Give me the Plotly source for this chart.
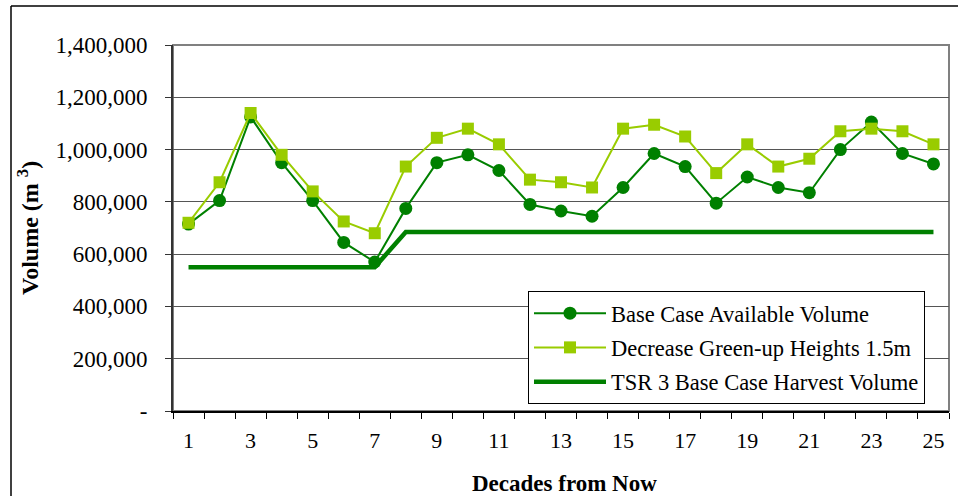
import plotly.graph_objects as go

decades = list(range(1, 26))
base_case = [715000, 805000, 1125000, 950000, 805000, 645000, 570000, 775000, 950000, 980000,
             920000, 790000, 765000, 745000, 855000, 985000, 935000, 795000, 895000, 855000,
             835000, 1000000, 1105000, 985000, 945000]
greenup = [720000, 875000, 1140000, 980000, 840000, 725000, 680000, 935000, 1045000, 1080000,
           1020000, 885000, 875000, 855000, 1080000, 1095000, 1050000, 910000, 1020000, 935000,
           965000, 1070000, 1080000, 1070000, 1020000]
harvest = [550000] * 7 + [685000] * 18

y_ticks = [0, 200000, 400000, 600000, 800000, 1000000, 1200000, 1400000]
y_ticktext = ["-", "200,000", "400,000", "600,000", "800,000", "1,000,000", "1,200,000", "1,400,000"]
x_ticks = decades[::2]
x_ticktext = [str(d) for d in x_ticks]
x_bounds = [d - 0.5 for d in decades] + [decades[-1] + 0.5]

names = ["Base Case Available Volume", "Decrease Green-up Heights 1.5m", "TSR 3 Base Case Harvest Volume"]

FONT = "Liberation Serif"
DARK = "#008000"
LIGHT = "#99CC00"

fig = go.Figure()
fig.add_trace(go.Scatter(x=decades, y=base_case, name=names[0], mode="lines+markers",
                         line=dict(color=DARK, width=2),
                         marker=dict(symbol="circle", size=13, color=DARK),
                         legendgroup="a"))
fig.add_trace(go.Scatter(x=decades, y=greenup, name=names[1], mode="lines+markers",
                         line=dict(color=LIGHT, width=2),
                         marker=dict(symbol="square", size=12, color=LIGHT),
                         legendgroup="b"))
fig.add_trace(go.Scatter(x=decades, y=harvest, name=names[2], mode="lines",
                         line=dict(color=DARK, width=4.5),
                         legendgroup="c"))

L, R, T, B = 173, 9, 45, 85
W, H = 958, 496
pw, ph = W - L - R, H - T - B

def px_x(p):
    return (p - L) / pw

def px_y(p):
    return (H - B - p) / ph

fig.update_layout(
    width=W, height=H,
    margin=dict(l=L, r=R, t=T, b=B),
    paper_bgcolor="white", plot_bgcolor="white",
    font=dict(family=FONT, color="black", size=21),
    showlegend=True,
    legend=dict(x=px_x(528), y=px_y(291), xanchor="left", yanchor="top",
                bgcolor="white", bordercolor="black", borderwidth=1,
                font=dict(family=FONT, size=22.5), itemwidth=72,
                traceorder="grouped", tracegroupgap=2),
    xaxis=dict(range=[0.5, 25.5], tickmode="array", tickvals=x_ticks, ticktext=x_ticktext,
               ticks="", showgrid=False, zeroline=False, showline=True,
               linecolor="black", linewidth=1.5,
               tickfont=dict(family=FONT, size=22),
               ticklabelstandoff=9,
               minor=dict(tickmode="array", tickvals=x_bounds, ticks="outside",
                          ticklen=6, tickcolor="black", tickwidth=1, showgrid=False)),
    yaxis=dict(range=[0, 1400000], tickmode="array", tickvals=y_ticks, ticktext=y_ticktext,
               ticks="outside", ticklen=6, tickcolor="#333333", tickwidth=1,
               showgrid=True, gridcolor="#555555", gridwidth=1, zeroline=False,
               showline=True, linecolor="#333333", linewidth=2,
               tickfont=dict(family=FONT, size=23),
               ticklabelstandoff=13),
    shapes=[
        dict(type="rect", xref="paper", yref="paper", x0=0, x1=1, y0=0, y1=1,
             line=dict(color="#808080", width=2), layer="below"),
        dict(type="line", xref="paper", yref="paper", x0=px_x(11), x1=px_x(958),
             y0=px_y(6), y1=px_y(6), line=dict(color="black", width=1.5)),
        dict(type="line", xref="paper", yref="paper", x0=px_x(11), x1=px_x(11),
             y0=px_y(6), y1=px_y(496), line=dict(color="black", width=1.5)),
    ],
    annotations=[
        dict(text="<b>Volume (m <sup>3</sup>)</b>", textangle=-90, xref="paper", yref="paper",
             x=px_x(28), y=px_y(228), showarrow=False, xanchor="center", yanchor="middle",
             font=dict(family=FONT, size=24)),
        dict(text="<b>Decades from Now</b>", xref="paper", yref="paper",
             x=px_x(564), y=px_y(483), showarrow=False, xanchor="center", yanchor="middle",
             font=dict(family=FONT, size=23)),
    ],
)

fig.write_html("out.html", config={"displayModeBar": False},
               post_script="document.body.style.margin='0';document.body.style.overflow='hidden';")
